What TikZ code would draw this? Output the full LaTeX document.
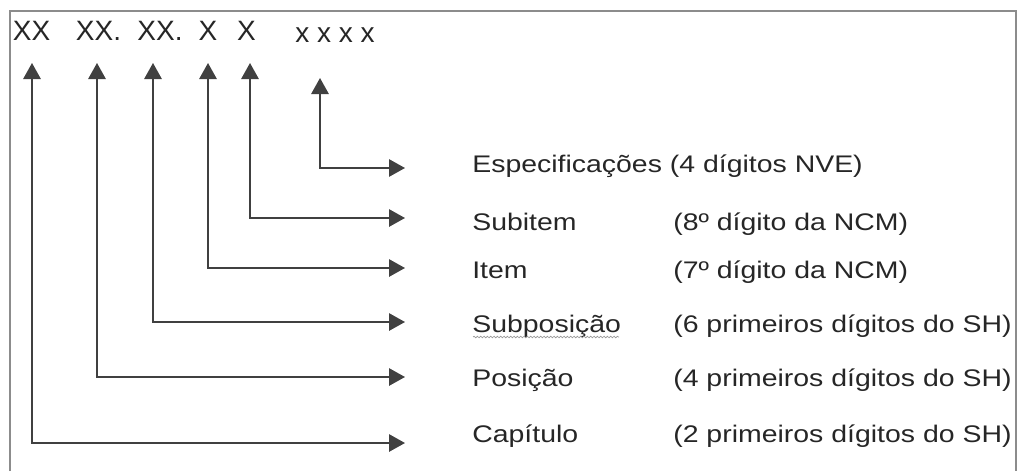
\documentclass[tikz,border=0pt]{standalone}
\usepackage{fontspec}
\setmainfont{Liberation Sans}
\usetikzlibrary{arrows.meta,decorations.pathmorphing}

\begin{document}
\begin{tikzpicture}[x=0.75pt, y=-0.75pt,
		frame/.style={draw=black!45, line width=1.4pt},
		link/.style={draw=black!75, line width=1.4pt, {Triangle[length=12pt,width=13pt]}-{Triangle[length=12pt,width=13pt]}},
		digit/.style={anchor=base, inner sep=0pt, text=black!85, font=\fontsize{21}{25}\selectfont},
		field/.style={anchor=base west, inner sep=0pt, xscale=1.185, text=black!85, font=\fontsize{18}{22}\selectfont}]
		\useasboundingbox (0,0) rectangle (1019,471);
		% frame
		\draw[frame] (10,471) -- (10,11) -- (1016,11) -- (1016,471);
		% code digits
		\node[digit] (dcap) at (31.5,40) {XX};
		\node[digit] (dpos) at (98.5,40) {XX.};
		\node[digit] (dsubpos) at (160,40) {XX.};
		\node[digit] (ditem) at (208,40) {X};
		\node[digit] (dsubitem) at (246.5,40) {X};
		\node[digit] (dnve) at (335,42) {x x x x};
		% meanings
		\node[field] (rnve) at (472,172) {Especificações (4 dígitos NVE)};
		\node[field] (rsubitem) at (472,230) {Subitem};
		\node[field] (rsubitemd) at (673,230) {(8º dígito da NCM)};
		\node[field] (ritem) at (472,278) {Item};
		\node[field] (ritemd) at (673,278) {(7º dígito da NCM)};
		\node[field] (rsubpos) at (472,332) {Subposição};
		\node[field] (rsubposd) at (673,332) {(6 primeiros dígitos do SH)};
		\node[field] (rpos) at (472,386) {Posição};
		\node[field] (rposd) at (673,386) {(4 primeiros dígitos do SH)};
		\node[field] (rcap) at (472,442) {Capítulo};
		\node[field] (rcapd) at (673,442) {(2 primeiros dígitos do SH)};
		% spelling mark
		\draw[black!40, line width=0.5pt, decorate, decoration={snake, amplitude=0.6pt, segment length=2.5pt}] (473,337) -- (619,337);
		% arrow ends
		\coordinate (tcap) at (32,63);
		\coordinate (tpos) at (97,63);
		\coordinate (tsubpos) at (153,63);
		\coordinate (titem) at (208,63);
		\coordinate (tsubitem) at (250,63);
		\coordinate (tnve) at (320,78);
		\coordinate (ecap) at (405,443);
		\coordinate (epos) at (405,377);
		\coordinate (esubpos) at (405,322);
		\coordinate (eitem) at (405,268);
		\coordinate (esubitem) at (405,218);
		\coordinate (enve) at (405,168);
		% arrows
		\draw[link] (tcap) |- (ecap);
		\draw[link] (tpos) |- (epos);
		\draw[link] (tsubpos) |- (esubpos);
		\draw[link] (titem) |- (eitem);
		\draw[link] (tsubitem) |- (esubitem);
		\draw[link] (tnve) |- (enve);
	\end{tikzpicture}
\end{document}
